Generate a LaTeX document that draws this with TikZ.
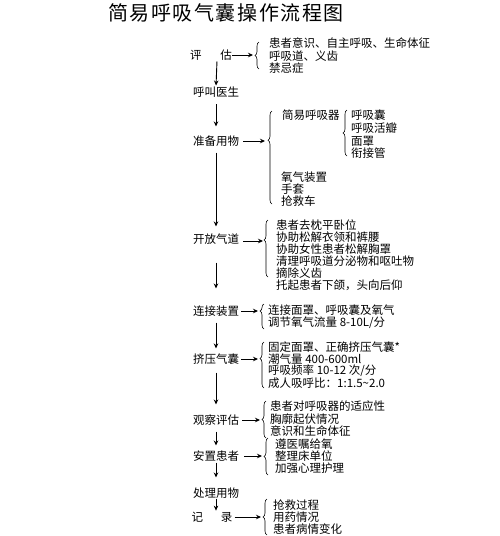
\documentclass[tikz,border=0pt]{standalone}
\usepackage{fontspec}
\setmainfont{Noto Sans CJK SC}
\newfontfamily\titlefont[LetterSpace=8]{Noto Sans CJK SC}
\usetikzlibrary{arrows.meta,decorations.pathreplacing}
\begin{document}
\begin{tikzpicture}[x=1pt,y=-1pt,
  lbl/.style={inner sep=0pt,font=\fontsize{11.5}{13}\selectfont},
  item/.style={lbl,anchor=west},
  arr/.style={-{Stealth[length=5pt,width=4.5pt]},line width=0.9pt},
  brc/.style={decorate,decoration={brace,amplitude=4pt,aspect=#1},line width=0.6pt},
  brc/.default=0.5]
\useasboundingbox[fill=white] (0,0) rectangle (500,536);

\node[inner sep=0pt,font=\titlefont\fontsize{20}{22}\selectfont] (title) at (226,13) {简易呼吸气囊操作流程图};

% main steps
\node[lbl] (s1) at (211,55) {评\hspace{19pt}估};
\node[lbl] (s2) at (216,92) {呼叫医生};
\node[lbl] (s3) at (216,141) {准备用物};
\node[lbl] (s4) at (216,239) {开放气道};
\node[lbl] (s5) at (216,311) {连接装置};
\node[lbl] (s6) at (216,359) {挤压气囊};
\node[lbl] (s7) at (216,420) {观察评估};
\node[lbl] (s8) at (216,456) {安置患者};
\node[lbl] (s9) at (216,493) {处理用物};
\node[lbl] (s10) at (212,517) {记\hspace{18pt}录};

% vertical arrows
\draw[arr,shorten <=1pt,shorten >=1pt] ([xshift=6pt]s1.south) -- (s2.north);
\draw[arr,shorten <=7pt,shorten >=9pt] (s2.south) -- (s3.north);
\draw[arr,shorten <=6pt,shorten >=7pt] (s3.south) -- (s4.north);
\draw[arr,shorten <=18pt,shorten >=17pt] (s4.south) -- (s5.north);
\draw[arr,shorten <=6pt,shorten >=5pt] (s5.south) -- (s6.north);
\draw[arr,shorten <=8pt,shorten >=10pt] (s6.south) -- (s7.north);
\draw[arr,shorten <=6pt,shorten >=5pt] (s7.south) -- (s8.north);
\draw[arr,shorten <=1pt,shorten >=10pt] (s8.south) -- (s9.north);
\draw[arr,shorten <=0pt,shorten >=1pt] (s9.south) -- (s9.south |- s10.north);

% brace tips
\coordinate (t1) at (253,55);
\coordinate (t3) at (265,141);
\coordinate (t4) at (263,241);
\coordinate (t5) at (258,311);
\coordinate (t6) at (258,359);
\coordinate (t7) at (260,420);
\coordinate (t8) at (262,456);
\coordinate (t10) at (261,517);

% horizontal arrows
\draw[arr] (s1.east) -- (t1);
\draw[arr] ([xshift=4pt]s3.east) -- (t3);
\draw[arr] ([xshift=4pt]s4.east |- t4) -- (t4);
\draw[arr] ([xshift=2pt]s5.east) -- (t5);
\draw[arr] ([xshift=2pt]s6.east) -- (t6);
\draw[arr] ([xshift=3pt]s7.east) -- (t7);
\draw[arr] ([xshift=5pt]s8.east) -- (t8);
\draw[arr] ([xshift=2pt]s10.east) -- (t10);

% braces
\draw[brc] (259,69) -- (259,42);
\draw[brc=0.685] (272,204) -- (272,111);
\draw[brc] (347,156) -- (347,110);
\draw[brc=0.65] (268,277) -- (268,220);
\draw[brc=0.72] (264,329) -- (264,304);
\draw[brc=0.64] (264,388) -- (264,342);
\draw[brc] (266,438) -- (266,401);
\draw[brc] (268,475) -- (268,438);
\draw[brc] (267,535) -- (267,499);

% items
\node[item] (i11) at (269,43) {患者意识、自主呼吸、生命体征};
\node[item] (i12) at (269,56) {呼吸道、义齿};
\node[item] (i13) at (269,68) {禁忌症};

\node[item] (i21) at (282,115) {简易呼吸器};
\node[item] (i22) at (351,115) {呼吸囊};
\node[item] (i23) at (351,128) {呼吸活瓣};
\node[item] (i24) at (351,141) {面罩};
\node[item] (i25) at (351,153) {衔接管};
\node[item] (i26) at (281,177) {氧气装置};
\node[item] (i27) at (281,189) {手套};
\node[item] (i28) at (281,201) {抢救车};

\node[item] (i31) at (276,225) {患者去枕平卧位};
\node[item] (i32) at (276,237) {协助松解衣领和裤腰};
\node[item] (i33) at (276,249) {协助女性患者松解胸罩};
\node[item] (i34) at (276,261) {清理呼吸道分泌物和呕吐物};
\node[item] (i35) at (276,273) {摘除义齿};
\node[item] (i36) at (276,285) {托起患者下颌，头向后仰};

\node[item] (i41) at (268,310) {连接面罩、呼吸囊及氧气};
\node[item] (i42) at (268,323) {调节氧气流量 8-10L/分};

\node[item] (i51) at (268,347) {固定面罩、正确挤压气囊*};
\node[item] (i52) at (268,359) {潮气量 400-600ml};
\node[item] (i53) at (268,371) {呼吸频率 10-12 次/分};
\node[item] (i54) at (268,383) {成人吸呼比：1:1.5\char`\~2.0};

\node[item] (i61) at (270,406) {患者对呼吸器的适应性};
\node[item] (i62) at (270,419) {胸廓起伏情况};
\node[item] (i63) at (270,431) {意识和生命体征};

\node[item] (i71) at (275,444) {遵医嘱给氧};
\node[item] (i72) at (275,456) {整理床单位};
\node[item] (i73) at (275,468) {加强心理护理};

\node[item] (i81) at (273,505) {抢救过程};
\node[item] (i82) at (273,517) {用药情况};
\node[item] (i83) at (273,529) {患者病情变化};
\end{tikzpicture}
\end{document}
